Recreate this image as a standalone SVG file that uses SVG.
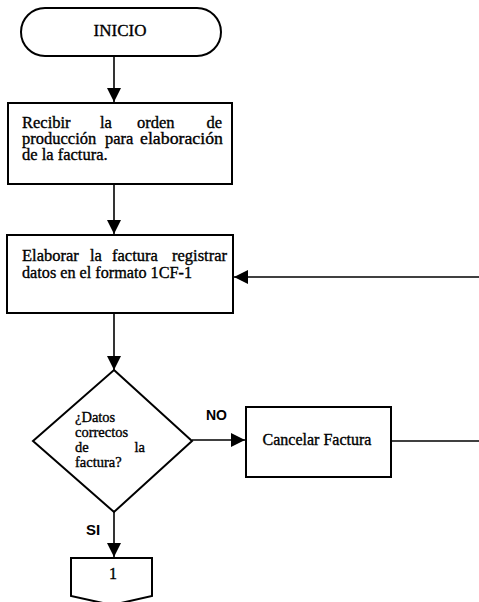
<svg xmlns="http://www.w3.org/2000/svg" width="479" height="602" viewBox="0 0 479 602">
  <style>
    .shape { fill: #ffffff; stroke: #000000; stroke-width: 2; }
    .line { fill: none; stroke: #000000; stroke-width: 1.6; }
    .txt { font-family: "Liberation Serif", "Times New Roman", serif; font-size: 16px; fill: #000000; stroke: #000000; stroke-width: 0.35; }
    .big { font-size: 16.5px; }
    .small { font-size: 14.5px; }
    .lbl { font-family: "Liberation Sans", Arial, sans-serif; font-size: 14px; font-weight: bold; fill: #000000; }
  </style>
  <defs>
    <marker id="arrow" viewBox="0 0 10 10" refX="10" refY="5" markerWidth="14" markerHeight="14" markerUnits="userSpaceOnUse" orient="auto">
      <path d="M0,0 L10,5 L0,10 Z" fill="#000000"/>
    </marker>
  </defs>
  <rect width="479" height="602" fill="#ffffff"/>

  <!-- connectors -->
  <g id="connectors">
    <line class="line" x1="114" y1="56" x2="114" y2="102" marker-end="url(#arrow)"/>
    <line class="line" x1="114" y1="184" x2="114" y2="234" marker-end="url(#arrow)"/>
    <line class="line" x1="114" y1="313" x2="114" y2="370" marker-end="url(#arrow)"/>
    <line class="line" x1="479" y1="277" x2="234" y2="277" marker-end="url(#arrow)"/>
    <line class="line" x1="192" y1="440" x2="245" y2="440" marker-end="url(#arrow)"/>
    <line class="line" x1="391" y1="441" x2="479" y2="441"/>
    <line class="line" x1="114" y1="512" x2="114" y2="557" marker-end="url(#arrow)"/>
    <text class="lbl" x="206" y="420">NO</text>
    <text class="lbl" x="86" y="535" style="font-size:15px">SI</text>
  </g>

  <!-- start terminator -->
  <g id="inicio">
    <rect class="shape" x="21" y="8" width="200" height="48" rx="24" ry="24"/>
    <text class="txt" x="120" y="36" text-anchor="middle" style="font-size:17px">INICIO</text>
  </g>

  <!-- receive order (justified lines) -->
  <g id="recibir">
    <rect class="shape" x="8" y="103" width="224" height="81"/>
    <text class="txt big" x="22" y="127.5">Recibir</text>
    <text class="txt big" x="100" y="127.5">la</text>
    <text class="txt big" x="137" y="127.5">orden</text>
    <text class="txt big" x="222" y="127.5" text-anchor="end">de</text>
    <text class="txt big" x="22" y="143.5">producción</text>
    <text class="txt big" x="105" y="143.5">para</text>
    <text class="txt big" x="223" y="143.5" text-anchor="end" textLength="83" lengthAdjust="spacingAndGlyphs">elaboración</text>
    <text class="txt big" x="22" y="159.5">de la factura.</text>
  </g>

  <!-- prepare invoice -->
  <g id="elaborar">
    <rect class="shape" x="7" y="235" width="226" height="78"/>
    <text class="txt big" x="22" y="261">Elaborar</text>
    <text class="txt big" x="90" y="261">la</text>
    <text class="txt big" x="112" y="261">factura</text>
    <text class="txt big" x="227" y="261" text-anchor="end">registrar</text>
    <text class="txt" x="22" y="277.5" textLength="170" lengthAdjust="spacingAndGlyphs">datos en el formato 1CF-1</text>
  </g>

  <!-- decision -->
  <g id="decision">
    <polygon class="shape" points="114,370 192,441 114,512 33,441"/>
    <text class="txt small" x="75" y="422">¿Datos</text>
    <text class="txt small" x="75" y="437">correctos</text>
    <text class="txt small" x="75" y="452">de</text>
    <text class="txt small" x="145" y="452" text-anchor="end">la</text>
    <text class="txt small" x="75" y="467">factura?</text>
  </g>

  <!-- cancel invoice -->
  <g id="cancelar">
    <rect class="shape" x="246" y="407" width="145" height="70"/>
    <text class="txt" x="317" y="445" text-anchor="middle">Cancelar Factura</text>
  </g>

  <!-- off-page connector -->
  <g id="conector-1">
    <polygon class="shape" points="71,558 152,558 152,596 112,605 71,596"/>
    <text class="txt" x="113" y="579" text-anchor="middle">1</text>
  </g>
</svg>
